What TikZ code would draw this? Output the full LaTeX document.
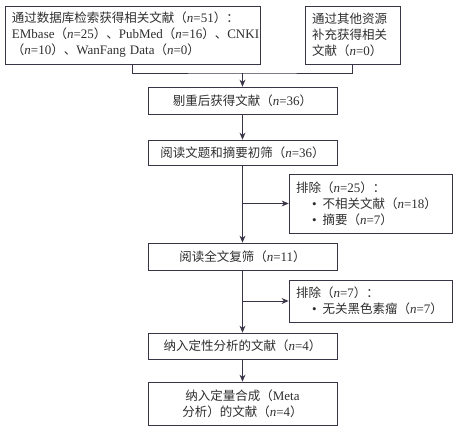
\documentclass[tikz,border=0pt]{standalone}
\usepackage{fontspec}
\setmainfont{Noto Sans CJK SC}
\newfontfamily\latf[Scale=1.04]{Liberation Serif}
\usetikzlibrary{arrows.meta}
\definecolor{lnc}{HTML}{3A3446}
\definecolor{txc}{HTML}{2E2E2E}
\newcommand\la[1]{{\latf #1}}
\newcommand\nn[1]{（{\latf\textit{n}=#1}）}
\newcommand\bul{\hspace*{16pt}{\latf •}\hspace{6pt}}
\begin{document}
\begin{tikzpicture}[x=1pt,y=-1pt, font=\fontsize{12.5}{16}\selectfont, text=txc,
  box/.style={draw=lnc, line width=0.8pt, inner sep=0pt, align=center},
  conn/.style={draw=lnc, line width=0.9pt},
  arr/.style={conn, -{Stealth[length=7pt,width=6pt]}}]
\useasboundingbox (0,0) rectangle (455,428);
\node[box, minimum width=255pt, minimum height=58pt, text width=241pt, align=left] (b1) at (132.5,35)
  {通过数据库检索获得相关文献\nn{51}：\\\la{EMbase}\nn{25}、\la{PubMed}\nn{16}、\la{CNKI}\\\nn{10}、\la{WanFang Data}\nn{0}};
\node[box, minimum width=95pt, minimum height=58pt, text width=81pt, align=left] (b2) at (352.5,35)
  {通过其他资源\\补充获得相关\\文献\nn{0}};
\node[box, minimum width=189pt, minimum height=27pt] (b3) at (242.5,100.5) {剔重后获得文献\nn{36}};
\node[box, minimum width=189pt, minimum height=25pt] (b4) at (242.5,152.5) {阅读文题和摘要初筛\nn{36}};
\node[box, minimum width=163pt, minimum height=59pt, text width=149pt, align=left] (e1) at (370.5,203.5)
  {排除\nn{25}：\\\bul 不相关文献\nn{18}\\\bul 摘要\nn{7}};
\node[box, minimum width=189pt, minimum height=27pt] (b5) at (242.5,256.5) {阅读全文复筛\nn{11}};
\node[box, minimum width=163pt, minimum height=42pt, text width=149pt, align=left] (e2) at (370.5,301)
  {排除\nn{7}：\\\bul 无关黑色素瘤\nn{7}};
\node[box, minimum width=189pt, minimum height=26pt] (b6) at (242.5,346) {纳入定性分析的文献\nn{4}};
\node[box, minimum width=189pt, minimum height=43pt] (b7) at (242.5,403.5) {纳入定量合成（\la{Meta}\\分析）的文献\nn{4}};
\coordinate (j) at (242.5,73);
\draw[conn] (b1.south) |- (j) -| (b2.south);
\draw[arr] (j) -- (b3.north);
\draw[arr] (b3) -- (b4);
\draw[arr] (b4) -- (b5);
\draw[arr] (b4.south |- e1.west) -- (e1.west);
\draw[arr] (b5) -- (b6);
\draw[arr] (b5.south |- e2.west) -- (e2.west);
\draw[arr] (b6) -- (b7);
\end{tikzpicture}
\end{document}
